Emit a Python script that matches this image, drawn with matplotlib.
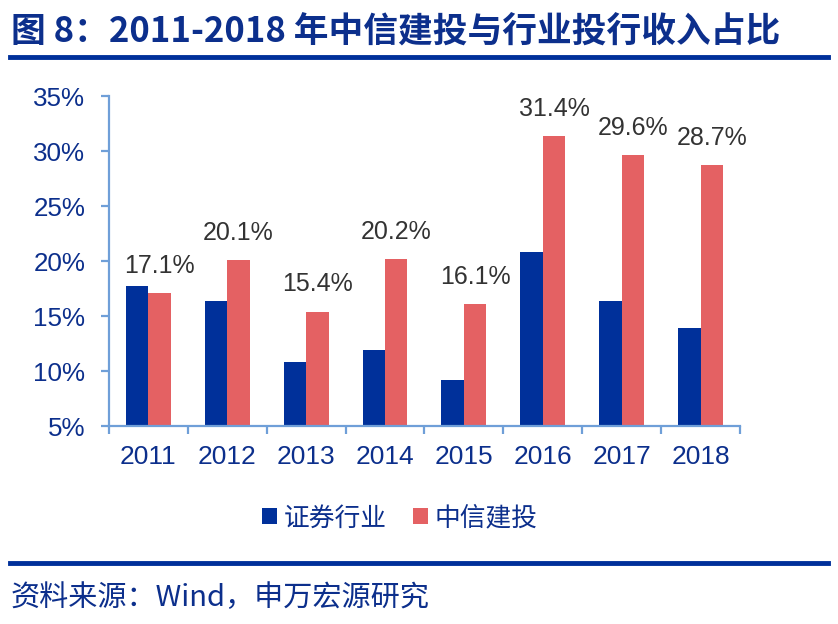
import matplotlib
matplotlib.use("Agg")
import matplotlib.pyplot as plt
from matplotlib.patches import Patch
from matplotlib.lines import Line2D
import numpy as np

# 2011-2018 投行收入占比
years = ["2011", "2012", "2013", "2014", "2015", "2016", "2017", "2018"]
industry = [17.7, 16.4, 10.8, 11.9, 9.2, 20.8, 16.4, 13.9]     # 证券行业
citics = [17.1, 20.1, 15.4, 20.2, 16.1, 31.4, 29.6, 28.7]       # 中信建投
series_names = ["证券行业", "中信建投"]
yticks = [5, 10, 15, 20, 25, 30, 35]

title = "图 8：2011-2018 年中信建投与行业投行收入占比"
source = "资料来源：Wind，申万宏源研究"

BLUE = "#00309a"
RED = "#e46163"
AXIS = "#6f9fd8"
TXT = "#0c2f8c"
FONT = ["Liberation Sans", "Noto Sans CJK SC"]

plt.rcParams["font.family"] = FONT

fig = plt.figure(figsize=(8.38, 6.24), dpi=100)
ax = fig.add_axes([0.130, 0.3173, 0.753, 0.5287])

x = np.arange(len(years))
w = 0.285
ax.bar(x - w / 2, industry, w, color=BLUE, zorder=2)
ax.bar(x + w / 2, citics, w, color=RED, zorder=2)

for xi, v in zip(x, citics):
    ax.annotate(f"{v:.1f}%", (xi + w / 2, v), xytext=(0, 14.5),
                textcoords="offset points", ha="center", va="baseline",
                fontsize=18, color="#333333")

ax.set_xlim(-0.5, len(years) - 0.5)
ax.set_ylim(5, 35)
ax.set_yticks(yticks)
ax.set_yticklabels([f"{t}%" for t in yticks])
ax.set_xticks(x)
ax.set_xticklabels(years)
ax.set_xticks(np.arange(-0.5, len(years)), minor=True)

for s in ["top", "right"]:
    ax.spines[s].set_visible(False)
for s in ["left", "bottom"]:
    ax.spines[s].set_color(AXIS)
    ax.spines[s].set_linewidth(1.6)

ax.tick_params(axis="y", length=6, width=1.6, color=AXIS, pad=11,
               labelsize=18.7, labelcolor=TXT)
ax.tick_params(axis="x", which="major", length=0, pad=14,
               labelsize=19, labelcolor=TXT)
ax.tick_params(axis="x", which="minor", length=6, width=1.6, color=AXIS)

handles = [Patch(facecolor=BLUE), Patch(facecolor=RED)]
fig.legend(handles, series_names, loc="center", bbox_to_anchor=(0.477, 0.17),
           ncol=2, frameon=False, fontsize=18.5, handlelength=0.6,
           handleheight=0.6, handletextpad=0.25, columnspacing=1.0,
           labelcolor=TXT)

fig.text(0.013, 0.948, title, fontsize=25, fontweight="bold", color=TXT,
         ha="left", va="center", family=["Noto Sans CJK SC"])
fig.add_artist(Line2D([0.012, 0.988], [0.908, 0.908], color=BLUE, lw=3.5))
fig.add_artist(Line2D([0.012, 0.988], [0.098, 0.098], color=BLUE, lw=3.5))
fig.text(0.013, 0.042, source, fontsize=21, color=TXT, ha="left",
         va="center", family=["Noto Sans CJK SC"])

fig.savefig("out.png", dpi=100)
